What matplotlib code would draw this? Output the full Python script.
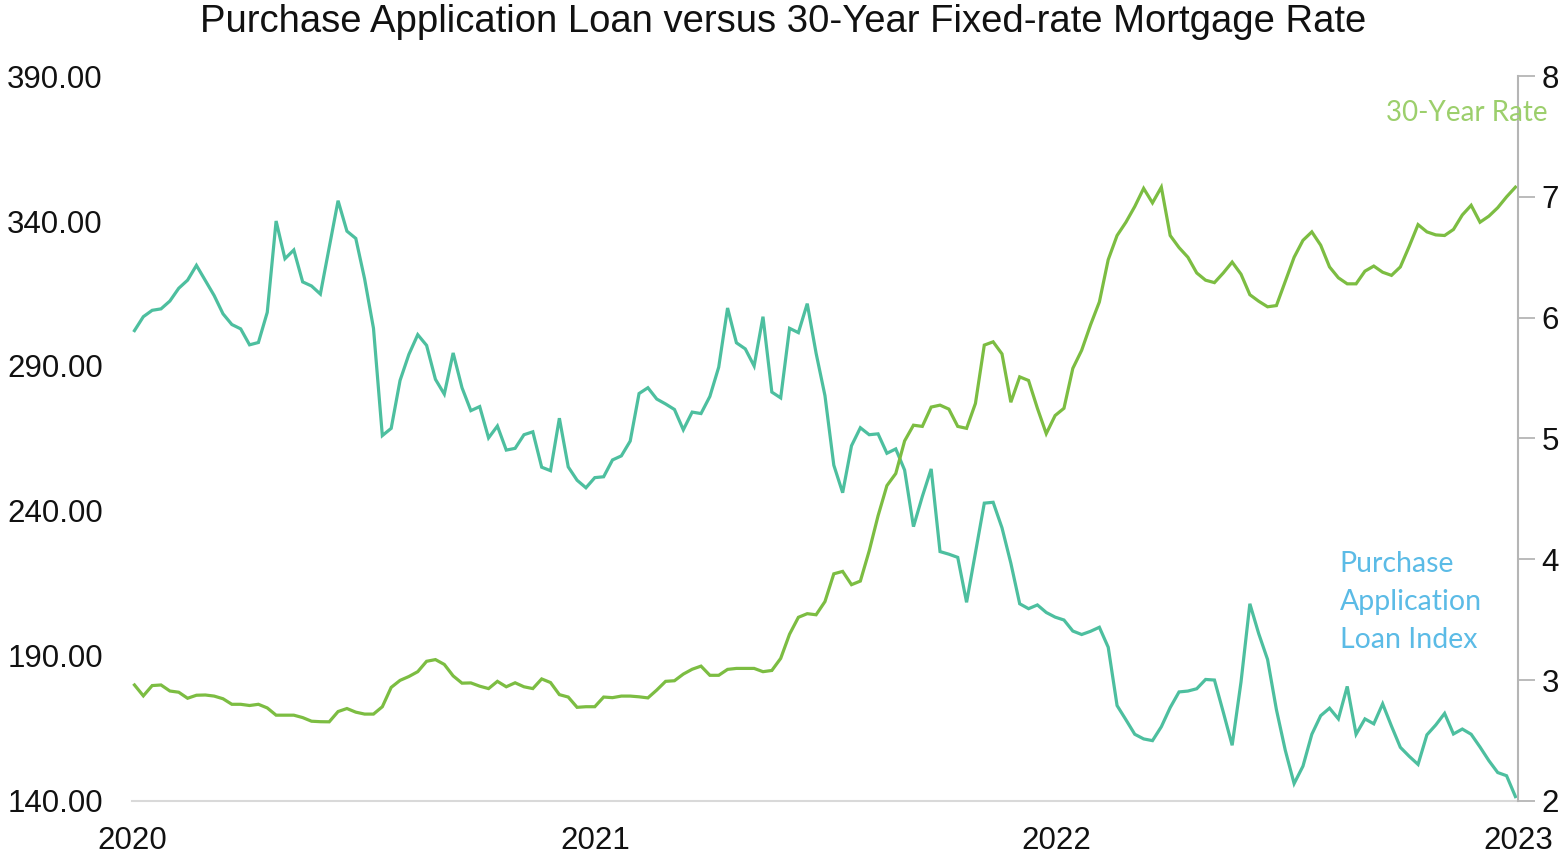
import matplotlib
matplotlib.use("Agg")
import matplotlib.pyplot as plt
import matplotlib.dates as mdates
from matplotlib.ticker import MultipleLocator, FormatStrFormatter
import pandas as pd

plt.rcParams['font.family'] = ['Liberation Sans', 'DejaVu Sans']

# weekly observations, Jan 2020 - Dec 2022
weeks = pd.date_range("2020-01-03", periods=157, freq="7D")

purchase_index = [
    302.2, 307.0, 309.2, 309.7, 312.4, 316.8, 319.6, 324.7, 319.5, 314.3,
    308.0, 304.3, 302.8, 297.3, 298.1, 308.5, 340.0, 327.0, 330.0, 319.0,
    317.6, 314.8, 331.0, 347.0, 336.5, 334.0, 320.0, 303.0, 266.0, 268.5,
    285.0, 294.0, 300.8, 297.1, 285.4, 280.3, 294.5, 282.5, 274.6, 276.0,
    265.2, 269.3, 261.0, 261.6, 266.3, 267.3, 255.1, 253.9, 272.0, 255.2,
    250.6, 248.0, 251.5, 251.8, 257.6, 259.0, 264.1, 280.5, 282.5, 278.6,
    276.9, 275.0, 268.0, 274.1, 273.6, 279.5, 289.6, 310.0, 298.0, 295.9,
    290.0, 307.0, 281.0, 279.0, 303.0, 301.5, 311.5, 294.4, 279.8, 255.8,
    246.3, 262.5, 268.7, 266.3, 266.6, 259.9, 261.4, 254.1, 234.6, 245.0,
    254.5, 226.0, 225.1, 224.0, 208.5, 225.7, 242.7, 243.0, 234.2, 222.0,
    208.0, 206.3, 207.6, 205.0, 203.4, 202.4, 198.6, 197.4, 198.5, 199.9,
    193.0, 172.9, 168.0, 163.0, 161.4, 160.8, 165.6, 172.2, 177.6, 177.9,
    178.7, 181.9, 181.7, 170.6, 159.2, 181.0, 208.0, 197.7, 188.8, 171.5,
    157.5, 146.0, 152.0, 163.0, 169.4, 172.0, 168.3, 179.5, 163.0, 168.3,
    166.6, 173.5, 165.8, 158.5, 155.4, 152.6, 162.8, 166.2, 170.2, 163.1,
    164.8, 163.0, 158.6, 153.9, 149.8, 148.7, 141.5,
]

rate_30yr = [
    2.96, 2.87, 2.955, 2.96, 2.91, 2.90, 2.85, 2.875, 2.877, 2.868,
    2.846, 2.80, 2.80, 2.79, 2.80, 2.77, 2.71, 2.71, 2.71, 2.69,
    2.66, 2.656, 2.655, 2.74, 2.765, 2.735, 2.719, 2.719, 2.78, 2.94,
    2.998, 3.03, 3.07, 3.156, 3.17, 3.13, 3.035, 2.975, 2.977, 2.95,
    2.93, 2.99, 2.945, 2.978, 2.945, 2.93, 3.01, 2.98, 2.88, 2.86,
    2.775, 2.78, 2.78, 2.86, 2.855, 2.868, 2.868, 2.862, 2.853, 2.918,
    2.99, 2.995, 3.05, 3.09, 3.116, 3.04, 3.04, 3.089, 3.097, 3.097,
    3.097, 3.07, 3.08, 3.18, 3.38, 3.52, 3.55, 3.541, 3.65, 3.88,
    3.90, 3.79, 3.82, 4.07, 4.36, 4.61, 4.71, 4.98, 5.11, 5.10,
    5.26, 5.276, 5.243, 5.10, 5.084, 5.29, 5.773, 5.80, 5.70, 5.30,
    5.51, 5.48, 5.25, 5.04, 5.19, 5.25, 5.58, 5.73, 5.94, 6.13,
    6.48, 6.68, 6.79, 6.92, 7.07, 6.95, 7.08, 6.68, 6.58, 6.50,
    6.37, 6.31, 6.29, 6.37, 6.46, 6.36, 6.19, 6.136, 6.09, 6.10,
    6.30, 6.50, 6.64, 6.71, 6.60, 6.42, 6.33, 6.28, 6.28, 6.385,
    6.427, 6.376, 6.35, 6.42, 6.59, 6.77, 6.71, 6.685, 6.68, 6.73,
    6.85, 6.93, 6.79, 6.84, 6.91, 7.00, 7.08,
]

index_ticks = [140, 190, 240, 290, 340, 390]
year_ticks = pd.to_datetime(["2020-01-01", "2021-01-01", "2022-01-01", "2023-01-01"])

teal = "#4dbf9f"
green = "#7cbd42"

fig = plt.figure(figsize=(15.67, 8.56), dpi=100)
ax = fig.add_axes([0.0842, 0.0643, 0.8845, 0.8469])
ax2 = ax.twinx()

# purchase index on the left scale
ax.plot(weeks, purchase_index, color=teal, lw=2.3, solid_joinstyle="miter")
ax.set_ylim(140, 390)
ax.set_yticks(index_ticks)
ax.yaxis.set_major_formatter(FormatStrFormatter("%.2f"))
ax.tick_params(axis="y", length=0, pad=21, labelsize=22.5, colors="#111111")

ax.set_xlim(pd.Timestamp("2020-01-01"), pd.Timestamp("2023-01-01"))
ax.set_xticks(year_ticks)
ax.xaxis.set_major_formatter(mdates.DateFormatter("%Y"))
ax.tick_params(axis="x", length=0, pad=18, labelsize=22.5, colors="#111111")

for side in ["left", "top", "right"]:
    ax.spines[side].set_visible(False)
ax.spines["bottom"].set_color("#d9d9d9")
ax.spines["bottom"].set_linewidth(1.5)

# mortgage rate on the right scale
ax2.plot(weeks, rate_30yr, color=green, lw=2.3, solid_joinstyle="miter")
ax2.set_ylim(2, 8)
ax2.yaxis.set_major_locator(MultipleLocator(1))
ax2.tick_params(axis="y", length=12, width=1.3, color="#b5b5b5", pad=5,
                labelsize=22.5, labelcolor="#111111")
for side in ["left", "top", "bottom"]:
    ax2.spines[side].set_visible(False)
ax2.spines["right"].set_color("#b5b5b5")
ax2.spines["right"].set_linewidth(1.5)

# series labels
ax2.text(pd.Timestamp("2022-09-19"), 7.69, "30-Year Rate", color="#9ccf6c",
         fontsize=20, family=["Lato", "DejaVu Sans"], va="center", ha="left")
ax.text(pd.Timestamp("2022-08-13"), 208.6, "Purchase\nApplication\nLoan Index",
        color="#5bbbe6", fontsize=20.5, family=["Lato", "DejaVu Sans"],
        va="center", ha="left", linespacing=1.55)

fig.text(0.5, 1 - 22 / 856, "Purchase Application Loan versus 30-Year Fixed-rate Mortgage Rate",
         ha="center", va="center", fontsize=27.5, color="#111111")

fig.savefig("out.png", dpi=100, facecolor="white")
